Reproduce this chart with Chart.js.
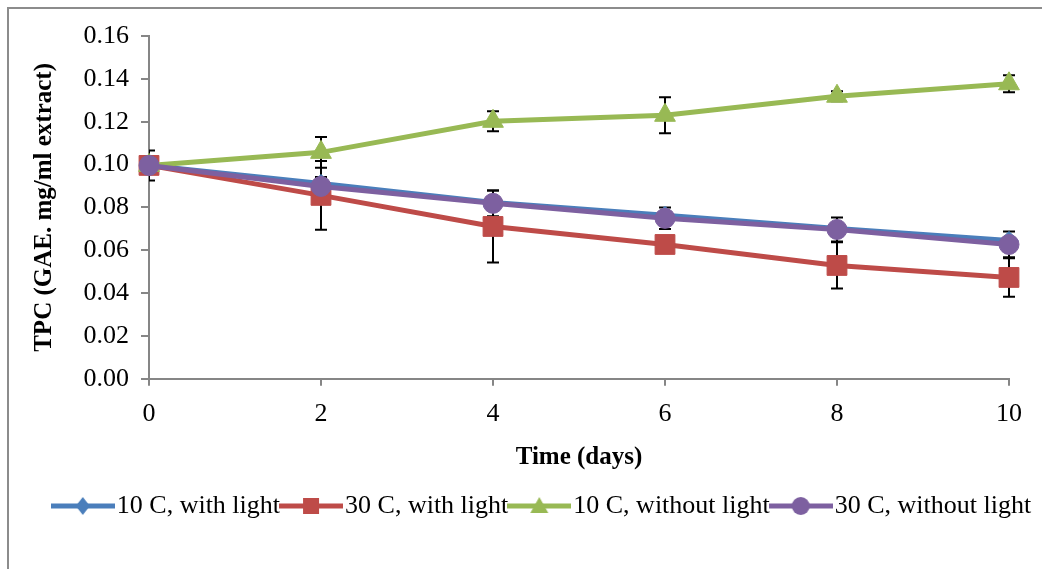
<!DOCTYPE html>
<html>
<head>
<meta charset="utf-8">
<script src="https://cdn.jsdelivr.net/npm/chart.js@4.4.1/dist/chart.umd.min.js"></script>
<style>
  body { margin: 0; background: #fff; overflow: hidden; }
  #frame { position: absolute; left: 7px; top: 7px; width: 1040px; height: 600px;
           border-left: 2px solid #8c8c8c; border-top: 2px solid #8c8c8c; }
  #chart { position: absolute; left: 0; top: 0; }
</style>
</head>
<body>
<div id="frame"></div>
<canvas id="chart" width="1042" height="569"></canvas>
<script>
// veriler
const days = ['0', '2', '4', '6', '8', '10'];
const seriesNames = ['10 C, with light', '30 C, with light', '10 C, without light', '30 C, without light'];

const tpc10Light = [0.0996, 0.0912, 0.0823, 0.0763, 0.0702, 0.0646];
const tpc30Light = [0.0996, 0.0856, 0.0711, 0.0627, 0.0529, 0.0473];
const tpc10Dark = [0.0996, 0.1057, 0.1202, 0.1230, 0.1319, 0.1377];
const tpc30Dark = [0.0996, 0.0898, 0.0819, 0.0749, 0.0697, 0.0627];

// hata çubukları (±)
const err10Light = [0.007, 0.003, 0, 0, 0, 0];
const err30Light = [0, 0.016, 0.0168, 0.003, 0.0108, 0.009];
const err10Dark = [0, 0.0072, 0.0047, 0.0084, 0.0023, 0.004];
const err30Dark = [0, 0.002, 0.006, 0.005, 0.0056, 0.006];

const yTicks = [0, 0.02, 0.04, 0.06, 0.08, 0.10, 0.12, 0.14, 0.16];

const colors = ['#4A7EBB', '#BE4B48', '#98B954', '#7D60A0'];
const styles = ['rectRot', 'rect', 'triangle', 'circle'];
const radii = [9, 14, 12, 10];
const FONT = "'Liberation Serif', 'Times New Roman', serif";

// legend için çizgi + işaret resmi
function legendImage(color, style) {
    const c = document.createElement('canvas');
    c.width = 64; c.height = 26;
    const g = c.getContext('2d');
    g.strokeStyle = color;
    g.lineWidth = 5;
    g.beginPath();
    g.moveTo(0, 13); g.lineTo(64, 13);
    g.stroke();
    g.fillStyle = color;
    g.beginPath();
    if (style === 'rectRot') {
        g.moveTo(32, 4); g.lineTo(39, 13); g.lineTo(32, 22); g.lineTo(25, 13);
    } else if (style === 'rect') {
        g.rect(24, 5, 16, 16);
    } else if (style === 'triangle') {
        g.moveTo(32, 4); g.lineTo(41, 20); g.lineTo(23, 20);
    } else {
        g.arc(32, 13, 9, 0, Math.PI * 2);
    }
    g.closePath();
    g.fill();
    return c;
}
const legendImgs = colors.map((c, i) => legendImage(c, styles[i]));

// hata çubuklarını çiz
const errorBars = {
    id: 'errorBars',
    beforeDatasetsDraw(chart) {
        const { ctx, chartArea, scales: { x, y } } = chart;
        ctx.save();
        ctx.beginPath();
        ctx.rect(chartArea.left, 0, chart.width - chartArea.left, chart.height);
        ctx.clip();
        ctx.strokeStyle = '#000';
        ctx.lineWidth = 2;
        chart.data.datasets.forEach(ds => {
            ds.errors.forEach((e, j) => {
                if (!e) return;
                const px = x.getPixelForValue(j);
                const top = y.getPixelForValue(ds.data[j] + e);
                const bot = y.getPixelForValue(ds.data[j] - e);
                ctx.beginPath();
                ctx.moveTo(px, top); ctx.lineTo(px, bot);
                ctx.moveTo(px - 6, top); ctx.lineTo(px + 6, top);
                ctx.moveTo(px - 6, bot); ctx.lineTo(px + 6, bot);
                ctx.stroke();
            });
        });
        ctx.restore();
    }
};

// legend'i biraz sağa kaydır
const legendShift = {
    id: 'legendShift',
    afterLayout(chart) {
        if (chart.legend) {
            chart.legend.left += 42;
            chart.legend.right += 42;
        }
    }
};

const allData = [tpc10Light, tpc30Light, tpc10Dark, tpc30Dark];
const allErr = [err10Light, err30Light, err10Dark, err30Dark];

const datasets = allData.map((d, i) => ({
    label: seriesNames[i],
    data: d,
    errors: allErr[i],
    borderColor: colors[i],
    backgroundColor: colors[i],
    borderWidth: 5,
    tension: 0,
    pointStyle: styles[i],
    pointRadius: radii[i],
    pointBorderWidth: 1,
    pointBorderColor: colors[i],
    pointBackgroundColor: colors[i],
    order: 4 - i
}));

new Chart(document.getElementById('chart'), {
    type: 'line',
    data: { labels: days, datasets: datasets },
    plugins: [errorBars, legendShift],
    options: {
        responsive: false,
        animation: false,
        devicePixelRatio: 1,
        layout: { padding: { left: 0, right: 33, top: 36, bottom: 40 } },
        plugins: {
            tooltip: { enabled: false },
            legend: {
                position: 'bottom',
                labels: {
                    usePointStyle: true,
                    pointStyleWidth: 42,
                    padding: 10,
                    color: '#000',
                    font: { family: FONT, size: 26 },
                    generateLabels: chart => chart.data.datasets.map((ds, i) => ({
                        text: ds.label,
                        pointStyle: legendImgs[i],
                        fillStyle: colors[i],
                        strokeStyle: colors[i],
                        lineWidth: 0,
                        hidden: false,
                        datasetIndex: i,
                        fontColor: '#000'
                    }))
                }
            }
        },
        scales: {
            x: {
                offset: false,
                grid: { drawOnChartArea: false, drawTicks: true, tickLength: 7, color: '#868686', lineWidth: 2 },
                border: { color: '#868686', width: 2 },
                ticks: { color: '#000', padding: 13, font: { family: FONT, size: 26 }, maxRotation: 0 },
                title: {
                    display: true, text: 'Time (days)', color: '#000',
                    font: { family: FONT, size: 25, weight: 'bold' },
                    padding: { top: 0, bottom: 10 }
                }
            },
            y: {
                min: 0, max: 0.16,
                afterFit: s => { s.width = 149; },
                afterBuildTicks: s => { s.ticks = yTicks.map(v => ({ value: v })); },
                grid: { drawOnChartArea: false, drawTicks: true, tickLength: 8, color: '#868686', lineWidth: 2 },
                border: { color: '#868686', width: 2 },
                ticks: {
                    color: '#000', padding: 12,
                    font: { family: FONT, size: 26 },
                    callback: v => v.toFixed(2)
                },
                title: {
                    display: true, text: 'TPC (GAE. mg/ml extract)', color: '#000',
                    font: { family: FONT, size: 25, weight: 'bold' },
                    padding: { top: 30, bottom: 0 }
                }
            }
        }
    }
});
</script>
</body>
</html>
